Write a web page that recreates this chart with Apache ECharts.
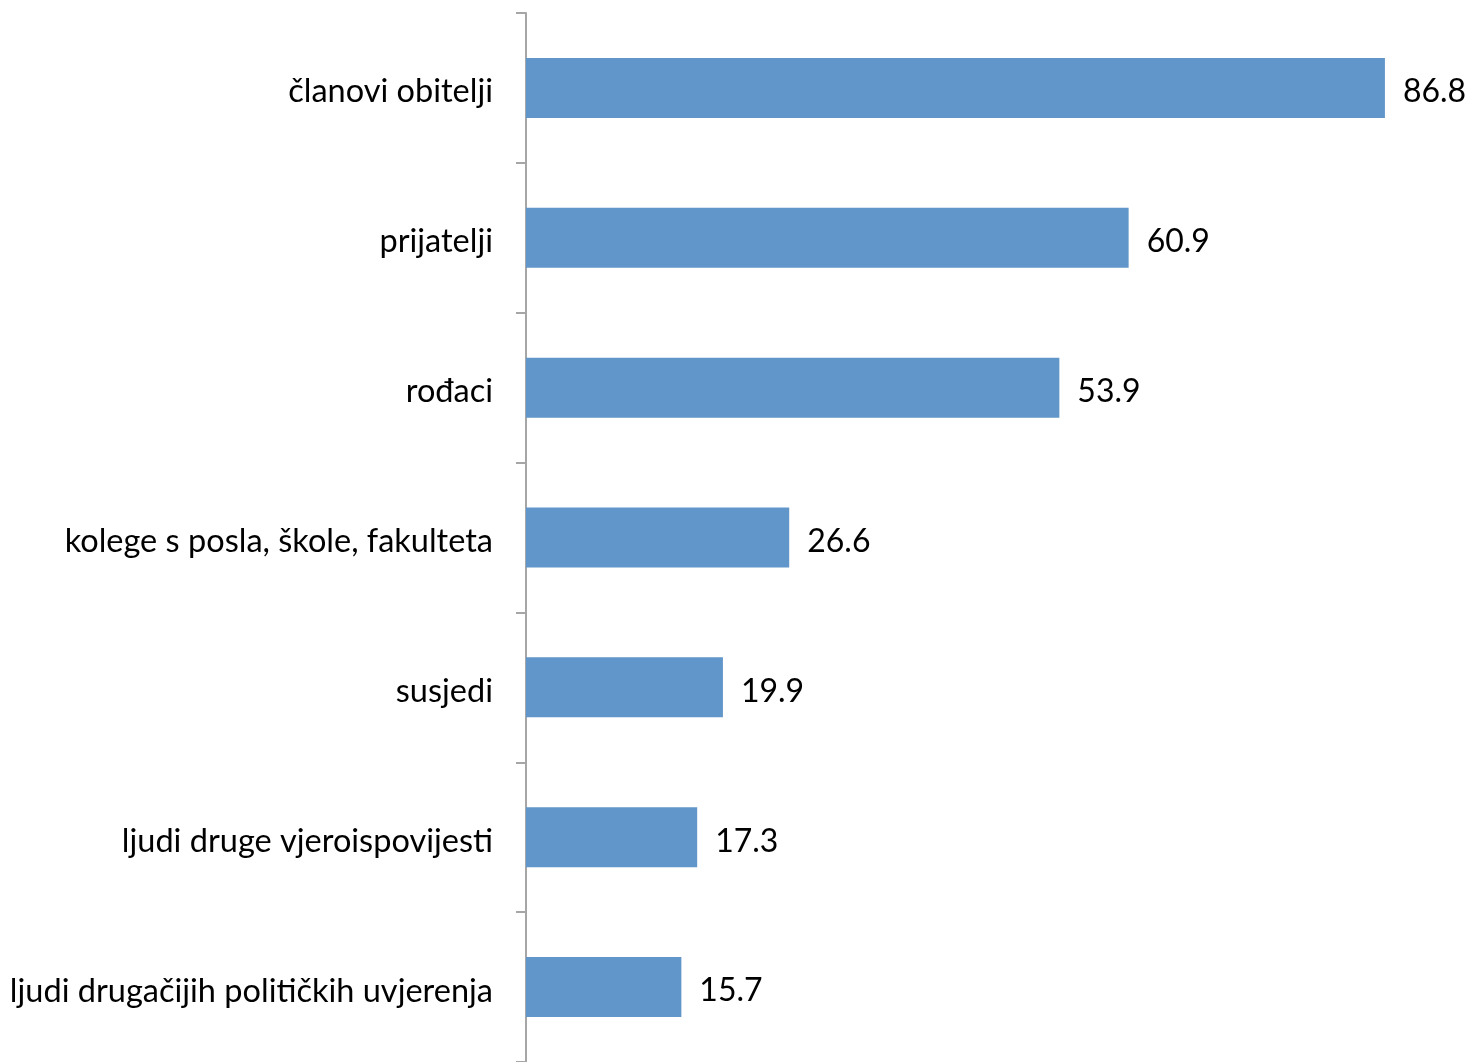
<!DOCTYPE html>
<html><head><meta charset="utf-8">
<script src="https://cdn.jsdelivr.net/npm/echarts@6/dist/echarts.min.js"></script>
<style>html,body{margin:0;padding:0;background:#fff}#c{width:1472px;height:1062px}</style>
</head><body><div id="c"></div>
<script>
const categories = ["članovi obitelji","prijatelji","rođaci","kolege s posla, škole, fakulteta","susjedi","ljudi druge vjeroispovijesti","ljudi drugačijih političkih uvjerenja"];
const values = [86.8, 60.9, 53.9, 26.6, 19.9, 17.3, 15.7];
const chart = echarts.init(document.getElementById('c'));
const font = 'Lato';
chart.setOption({
  animation: false,
  grid: {left: 526, top: 13, right: 0, bottom: -1, containLabel: false},
  xAxis: {type: 'value', min: 0, max: 95.6, show: false},
  yAxis: {
    type: 'category', data: categories, inverse: true,
    axisLine: {show: true, lineStyle: {color: '#a6a6a6', width: 2}},
    axisTick: {show: true, length: 10, lineStyle: {color: '#a6a6a6', width: 2}},
    axisLabel: {margin: 33, color: '#000', fontSize: 32.5, fontFamily: font,
      formatter: v => '{a|' + v + '}',
      rich: {a: {color: '#000', fontSize: 32.5, fontFamily: font, padding: [8, 0, 0, 0]}}},
    splitLine: {show: false}
  },
  series: [{
    type: 'bar', data: values, barWidth: 60,
    itemStyle: {color: '#6096c9'},
    label: {show: true, position: 'right', distance: 18, offset: [0, 4], color: '#000', fontSize: 32, fontFamily: font,
      formatter: p => p.value.toFixed(1)}
  }]
});
</script></body></html>
